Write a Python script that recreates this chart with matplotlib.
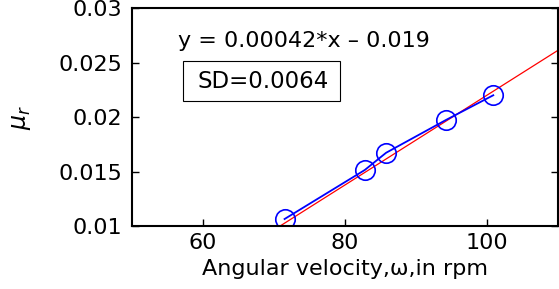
import numpy as np
from matplotlib import pyplot as plt
from matplotlib.patches import Rectangle
from matplotlib.ticker import FuncFormatter

# данные
speed = [71.5, 82.8, 85.8, 94.2, 100.9]
mu_r = [0.01064, 0.01514, 0.01672, 0.01972, 0.0220]
fit_slope = 0.000412
fit_intercept = -0.0192
fit_x = [50, 110]
x_ticks = [60, 80, 100]
y_ticks = [0.01, 0.015, 0.02, 0.025, 0.03]

plt.rcParams['font.family'] = ['DejaVu Sans']
plt.rcParams['mathtext.fontset'] = 'dejavusans'

fig = plt.figure(figsize=(5.59, 2.89), dpi=100)
ax = fig.add_axes([0.236, 0.218, 0.762, 0.754])

fx = np.array(fit_x)
ax.plot(fx, fit_slope * fx + fit_intercept, color='red', lw=0.9)
ax.plot(speed, mu_r, color='blue', lw=1.3, marker='o', ms=14,
        mfc='none', mec='blue', mew=1.2)

ax.set_xlim(50, 110)
ax.set_ylim(0.01, 0.03)
ax.set_xticks(x_ticks)
ax.set_yticks(y_ticks)
ax.yaxis.set_major_formatter(FuncFormatter(lambda v, p: '{:g}'.format(v)))
ax.tick_params(direction='in', length=5, width=1, labelsize=16,
               right=True, top=False)
ax.tick_params(axis='y', pad=7)
ax.tick_params(axis='x', pad=5)
for s in ax.spines.values():
    s.set_linewidth(1.5)

ax.set_xlabel('Angular velocity,ω,in rpm', fontsize=16, labelpad=4.5)
ax.set_ylabel(r'$\mu_r$', fontsize=17, labelpad=18)

ax.text(0.108, 0.82, 'y = 0.00042*x \u2013 0.019', transform=ax.transAxes,
        fontsize=16)
# рамка с SD
ax.add_patch(Rectangle((0.119, 0.573), 0.370, 0.184, transform=ax.transAxes,
                       fc='white', ec='black', lw=0.8))
ax.text(0.155, 0.665, 'SD=0.0064', transform=ax.transAxes, fontsize=16.5,
        va='center')

plt.savefig('out.png', dpi=100)
